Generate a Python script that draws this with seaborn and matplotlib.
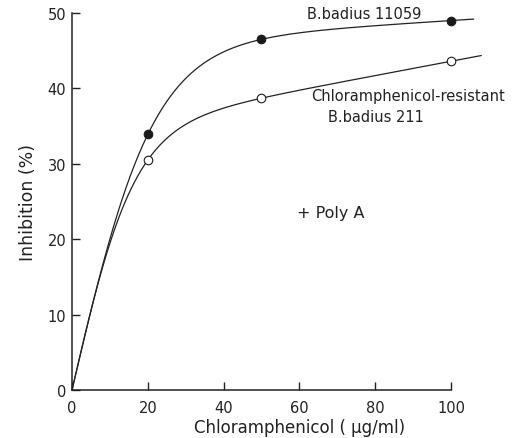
import numpy as np
import pandas as pd
import matplotlib
matplotlib.use("Agg")
import matplotlib.pyplot as plt
import seaborn as sns

# valores
conc = [0, 20, 50, 100]
inhib_11059 = [0, 33.9, 46.5, 49.0]
inhib_211 = [0, 30.5, 38.7, 43.6]
x_ticks = [0, 20, 40, 60, 80, 100]
y_ticks = [0, 10, 20, 30, 40, 50]


def fit_curve(x, y, x_end, n=400):
    """Ajuste suave y = A*tanh(x/t) + c*x (minimos cuadrados, t por barrido)"""
    x = np.asarray(x, float)
    y = np.asarray(y, float)
    best = None
    for t in np.linspace(5, 40, 701):
        M = np.column_stack([np.tanh(x / t), x])
        coef, *_ = np.linalg.lstsq(M, y, rcond=None)
        err = np.sum((M @ coef - y) ** 2)
        if best is None or err < best[0]:
            best = (err, t, coef)
    _, t, (a, c) = best
    xs = np.linspace(0, x_end, n)
    return pd.DataFrame({"x": xs, "y": a * np.tanh(xs / t) + c * xs})


sns.set_theme(style="ticks")
plt.rcParams['font.family'] = ['DejaVu Sans']

fig = plt.figure(figsize=(5.12, 4.39), dpi=100)
ax = fig.add_axes([0.1406, 0.1093, 0.7402, 0.8588])

ink = "#222222"
curve_a = fit_curve(conc, inhib_11059, 106)
curve_b = fit_curve(conc, inhib_211, 108)
sns.lineplot(data=curve_a, x="x", y="y", ax=ax, color=ink, lw=0.9, clip_on=False)
sns.lineplot(data=curve_b, x="x", y="y", ax=ax, color=ink, lw=0.9, clip_on=False)

pts_a = pd.DataFrame({"x": conc[1:], "y": inhib_11059[1:]})
pts_b = pd.DataFrame({"x": conc[1:], "y": inhib_211[1:]})
sns.scatterplot(data=pts_a, x="x", y="y", ax=ax, color="#1a1a1a", s=38,
                edgecolor="#1a1a1a", linewidth=0.8, zorder=5, clip_on=False)
sns.scatterplot(data=pts_b, x="x", y="y", ax=ax, color="white", s=38,
                edgecolor="#1a1a1a", linewidth=0.8, zorder=5, clip_on=False)

ax.set_xlim(0, 100)
ax.set_ylim(0, 50)
ax.set_xticks(x_ticks)
ax.set_yticks(y_ticks)
ax.tick_params(direction="in", length=6, width=1, colors=ink, labelsize=10.5)
ax.tick_params(axis="x", pad=7)
ax.tick_params(axis="y", pad=4)
sns.despine(ax=ax)
for s in ["left", "bottom"]:
    ax.spines[s].set_linewidth(1.1)
    ax.spines[s].set_color(ink)

ax.set_xlabel("Chloramphenicol ( µg/ml)", fontsize=12, color=ink, labelpad=2)
ax.xaxis.set_label_coords(0.60, -0.075)
ax.set_ylabel("Inhibition (%)", fontsize=12.5, color=ink, labelpad=8)

ax.text(77, 50.0, "B.badius 11059", fontsize=10.5, ha="center", va="center", color=ink)
ax.text(63, 39.0, "Chloramphenicol-resistant", fontsize=10.5, ha="left", va="center", color=ink)
ax.text(67.5, 36.3, "B.badius 211", fontsize=10.5, ha="left", va="center", color=ink)
ax.text(59.5, 23.6, "+ Poly A", fontsize=11.5, ha="left", va="center", color=ink)

fig.savefig("out.png", dpi=100)
plt.close(fig)
